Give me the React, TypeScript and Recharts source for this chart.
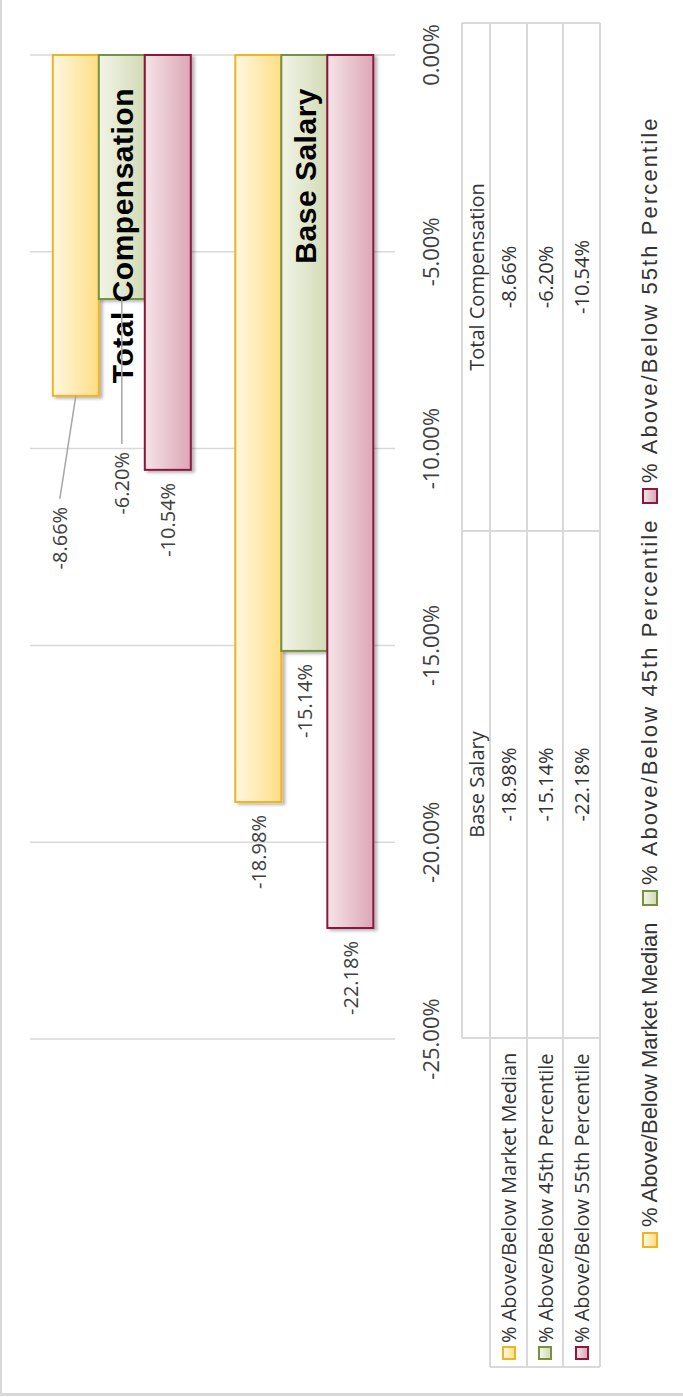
import React from 'react';
import { BarChart, Bar, XAxis, YAxis, CartesianGrid, LabelList } from 'recharts';

// chart is drawn in its own (landscape) orientation and then turned a quarter to the left
const W = 1397;
const H = 683;

const categories = ['Total Compensation', 'Base Salary'];
const marketMedian = [-8.66, -18.98];
const pct45 = [-6.2, -15.14];
const pct55 = [-10.54, -22.18];
const valueTicks = [-25, -20, -15, -10, -5, 0];
const seriesNames = [
  '% Above/Below Market Median',
  '% Above/Below 45th Percentile',
  '% Above/Below 55th Percentile',
];
// data table columns, left to right
const tableColumns = ['Base Salary', 'Total Compensation'];

const SERIES = [
  { key: 'median', name: seriesNames[0], values: marketMedian, light: '#FFF7DF', dark: '#FFDF85', stroke: '#F0B323' },
  { key: 'p45', name: seriesNames[1], values: pct45, light: '#F1F4E8', dark: '#D3DBB6', stroke: '#76923C' },
  { key: 'p55', name: seriesNames[2], values: pct55, light: '#F6E3E8', dark: '#DBA7B6', stroke: '#8C1840' },
];

const rows = categories.map((name, i) => ({
  name,
  median: marketMedian[i],
  p45: pct45[i],
  p55: pct55[i],
}));

// labels that Excel moved off the bar end (with leader lines)
const labelNudge: Record<string, { dx: number; dy: number }> = {
  'median-0': { dx: -111, dy: -16 },
  'p45-0': { dx: -153, dy: 0 },
};

const fmt = (v: number) => `${v.toFixed(2)}%`;
const BODY_FONT = "'Open Sans', 'Noto Sans', sans-serif";
const LEGEND_FONT = "'Liberation Sans', Arial, sans-serif";
const GRID = '#D9D9D9';

function ValueTick(p: any) {
  return (
    <text x={p.x} y={p.y + 35} textAnchor="middle" dominantBaseline="central"
      fontFamily={BODY_FONT} fontSize={22} fill="#404040">
      {fmt(p.payload.value)}
    </text>
  );
}

// category names sit just inside the zero line, centred on the middle bar
function CategoryLabel(p: any) {
  const vb = p.viewBox ?? p;
  const { x, y, width, height } = vb;
  const zero = Math.max(x, x + width);
  return (
    <text x={zero - 33} y={y + height / 2 + 1} textAnchor="end" dominantBaseline="central"
      fontFamily={LEGEND_FONT} fontWeight="bold" fontSize={30} letterSpacing={0.5} fill="#000">
      {p.value}
    </text>
  );
}

const makeShape = (s: typeof SERIES[number]) => (p: any) => {
  const { x, y, width, height } = p;
  const x0 = width < 0 ? x + width : x;
  return (
    <rect x={x0} y={y} width={Math.abs(width)} height={height}
      fill={`url(#grad-${s.key})`} stroke={s.stroke} strokeWidth={2} filter="url(#barShadow)" />
  );
};

const makeLabel = (key: string) => (p: any) => {
  const vb = p.viewBox ?? p;
  const { x, y, width, height } = vb;
  const end = Math.min(x, x + width);
  const cy = y + height / 2;
  const n = labelNudge[`${key}-${p.index}`];
  const tx = n ? end + n.dx : end - 13;
  const ty = n ? cy + n.dy : cy;
  return (
    <g>
      {n && <line x1={end} y1={cy} x2={tx + 8} y2={ty} stroke="#A6A6A6" strokeWidth={1.5} />}
      <text x={tx} y={ty} textAnchor="end" dominantBaseline="central"
        fontFamily={BODY_FONT} fontSize={20} fill="#404040">
        {fmt(p.value)}
      </text>
    </g>
  );
};

function Swatch({ s, size }: { s: typeof SERIES[number]; size: number }) {
  return (
    <div style={{
      width: size, height: size, boxSizing: 'border-box', border: `2px solid ${s.stroke}`,
      background: `linear-gradient(to bottom, ${s.light}, ${s.dark})`, flex: 'none',
    }} />
  );
}

// data table grid
const colEdges = [359, 866, 1374];
const headTop = 462;
const rowEdges = [490, 527, 563, 600];
const rowHeadLeft = 30;

function DataTable() {
  const lines: React.ReactNode[] = [];
  const hl = (y: number, x1: number, x2: number, k: string) =>
    lines.push(<div key={k} style={{ position: 'absolute', left: x1, top: y - 1, width: x2 - x1, height: 2, background: GRID }} />);
  const vl = (x: number, y1: number, y2: number, k: string) =>
    lines.push(<div key={k} style={{ position: 'absolute', left: x - 1, top: y1, width: 2, height: y2 - y1, background: GRID }} />);
  hl(headTop, colEdges[0], colEdges[2], 'h0');
  rowEdges.forEach((y, i) => hl(y, rowHeadLeft, colEdges[2], `h${i + 1}`));
  vl(rowHeadLeft, rowEdges[0], rowEdges[3], 'v0');
  colEdges.forEach((x, i) => vl(x, headTop, rowEdges[3], `v${i + 1}`));

  const cell = (left: number, top: number, w: number, h: number, content: React.ReactNode, k: string, align = 'center') => (
    <div key={k} style={{
      position: 'absolute', left, top, width: w, height: h, display: 'flex', alignItems: 'center',
      justifyContent: align, fontFamily: BODY_FONT, fontSize: 20, color: '#333', whiteSpace: 'nowrap',
    }}>{content}</div>
  );

  const cells: React.ReactNode[] = [];
  tableColumns.forEach((c, j) => {
    cells.push(cell(colEdges[j], headTop, colEdges[j + 1] - colEdges[j], rowEdges[0] - headTop, c, `hd${j}`));
  });
  SERIES.forEach((s, i) => {
    const top = rowEdges[i];
    const h = rowEdges[i + 1] - top;
    cells.push(cell(rowHeadLeft + 7, top, colEdges[0] - rowHeadLeft - 7, h,
      <><Swatch s={s} size={14} /><span style={{ marginLeft: 3 }}>{s.name}</span></>, `rh${i}`, 'flex-start'));
    tableColumns.forEach((c, j) => {
      const v = s.values[categories.indexOf(c)];
      cells.push(cell(colEdges[j], top, colEdges[j + 1] - colEdges[j], h, fmt(v), `c${i}-${j}`));
    });
  });
  return <>{lines}{cells}</>;
}

const legendLeft = [149, 491, 893];
const legendSpacing = [0, 2.1, 2.1];

function LegendRow() {
  return (
    <>
      {SERIES.map((s, i) => (
        <div key={s.key} style={{
          position: 'absolute', left: legendLeft[i], top: 650 - 15, height: 30, display: 'flex',
          alignItems: 'center', fontFamily: LEGEND_FONT, fontSize: 22, color: '#333', whiteSpace: 'nowrap',
          letterSpacing: legendSpacing[i],
        }}>
          <Swatch s={s} size={16} />
          <span style={{ marginLeft: 5 }}>{s.name}</span>
        </div>
      ))}
    </>
  );
}

export default function App() {
  return (
    <div style={{ position: 'absolute', left: 0, top: 0, width: 683, height: 1397, overflow: 'hidden', background: '#fff' }}>
      <svg width={0} height={0} style={{ position: 'absolute' }}>
        <defs>
          {SERIES.map((s) => (
            <linearGradient key={s.key} id={`grad-${s.key}`} x1="0" y1="0" x2="0" y2="1">
              <stop offset="0%" stopColor={s.light} />
              <stop offset="100%" stopColor={s.dark} />
            </linearGradient>
          ))}
          <filter id="barShadow" x="-10%" y="-10%" width="120%" height="130%">
            <feDropShadow dx={-2} dy={3} stdDeviation={1.5} floodColor="#000" floodOpacity={0.28} />
          </filter>
        </defs>
      </svg>
      <div style={{
        position: 'absolute', left: 0, top: 0, width: W, height: H,
        transformOrigin: '0 0', transform: `translate(0px, ${W}px) rotate(-90deg)`,
      }}>
        <div style={{
          position: 'absolute', left: 1, top: 0, width: W, height: H,
          borderLeft: `3px solid ${GRID}`, borderTop: `2px solid ${GRID}`,
        }} />
        <div style={{ position: 'absolute', left: 0, top: 0 }}>
          <BarChart width={W} height={H} data={rows} layout="vertical"
            margin={{ top: 30, right: 55, left: 358, bottom: 228 }}
            barCategoryGap="12.5%" barGap={0}>
            <CartesianGrid horizontal={false} stroke={GRID} strokeWidth={1.5} />
            <XAxis type="number" domain={[-25, 0]} ticks={valueTicks} height={60}
              tickLine={false} axisLine={false} tickSize={0} tickMargin={0} tick={ValueTick} />
            <YAxis type="category" dataKey="name" hide />
            {SERIES.map((s) => (
              <Bar key={s.key} dataKey={s.key} name={s.name} isAnimationActive={false}
                fill={`url(#grad-${s.key})`} stroke={s.stroke} shape={makeShape(s)}>
                {s.key === 'p45' && <LabelList dataKey="name" content={CategoryLabel} />}
                <LabelList dataKey={s.key} content={makeLabel(s.key)} />
              </Bar>
            ))}
          </BarChart>
        </div>
        <DataTable />
        <LegendRow />
      </div>
    </div>
  );
}
